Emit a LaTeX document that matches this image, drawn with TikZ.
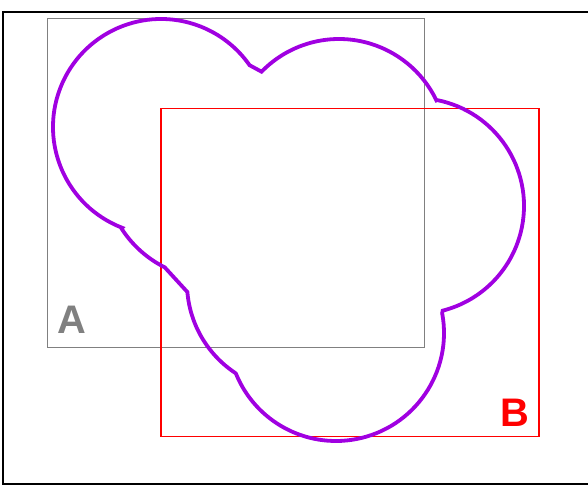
\documentclass[tikz,border=0pt]{standalone}
\usepackage{fontspec}
\setsansfont{Liberation Sans}
\usetikzlibrary{positioning}
\definecolor{BlobViolet}{RGB}{160,0,225}
\definecolor{BoxGray}{RGB}{128,128,128}
\definecolor{BoxRed}{RGB}{255,0,0}

\tikzset{
  setlabel/.style={font=\sffamily\bfseries\fontsize{40}{40}\selectfont,inner sep=0pt},
  blob/.style={BlobViolet,line width=3.8bp}
}

\begin{document}
\begin{tikzpicture}[x=1bp,y=1bp,yscale=-1]
    \useasboundingbox (0,0) rectangle (588,485);
    \clip (0,0) rectangle (588,485);
    \draw[line width=1.3bp] (3,12) rectangle (592,484);
    \draw[BoxGray,line width=1.2bp] (47.5,18.5) rectangle (424.5,347.5);
    \draw[BoxRed,line width=1.6bp] (161,108.6) rectangle (539,436.6);
    \node[setlabel,BoxGray] (labA) at (72,320) {A};
    \node[setlabel,BoxRed] (labB) at (515,413) {B};
    % outline made of circle arcs
    \draw[blob] ([shift={(161,127)}]111.1:108) arc[start angle=111.1,end angle=325.1,radius=108]
      -- ([shift={(339,147)}]224.2:108) arc[start angle=224.2,end angle=334.4,radius=108]
      -- ([shift={(416,206)}]281.2:108) arc[start angle=281.2,end angle=435.7,radius=108]
      -- ([shift={(336,333)}]-10.6:108) arc[start angle=-10.6,end angle=157.9,radius=108]
      -- ([shift={(295,283)}]123.7:108) arc[start angle=123.7,end angle=175.2,radius=108]
      -- ([shift={(214,169)}]116.6:110) arc[start angle=116.6,end angle=147.3,radius=110]
      -- cycle;
\end{tikzpicture}
\end{document}
